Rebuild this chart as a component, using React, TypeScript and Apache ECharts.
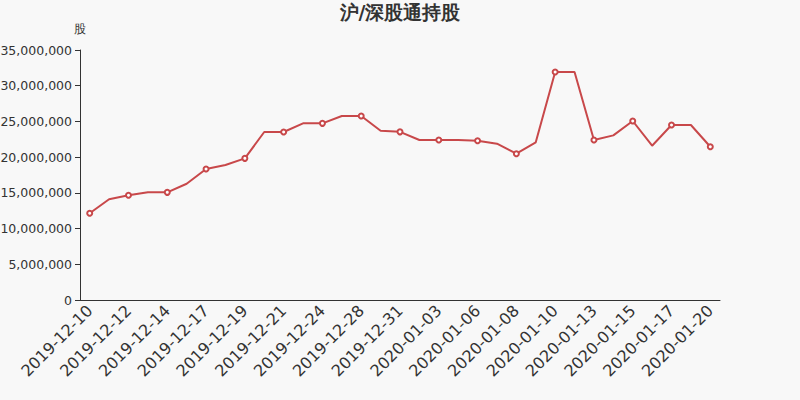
import React, { useEffect, useRef } from "react";
import * as echarts from "echarts";

const titleText = "沪/深股通持股";
const yAxisName = "股";
const categories = [
  "2019-12-10", "2019-12-11", "2019-12-12", "2019-12-13", "2019-12-14",
  "2019-12-16", "2019-12-17", "2019-12-18", "2019-12-19", "2019-12-20",
  "2019-12-21", "2019-12-23", "2019-12-24", "2019-12-27", "2019-12-28",
  "2019-12-30", "2019-12-31", "2020-01-02", "2020-01-03", "2020-01-04",
  "2020-01-06", "2020-01-07", "2020-01-08", "2020-01-09", "2020-01-10",
  "2020-01-11", "2020-01-13", "2020-01-14", "2020-01-15", "2020-01-16",
  "2020-01-17", "2020-01-18", "2020-01-20",
];
const holdings = [
  12140000, 14100000, 14660000, 15100000, 15070000,
  16280000, 18340000, 18900000, 19830000, 23520000,
  23520000, 24730000, 24730000, 25760000, 25760000,
  23700000, 23540000, 22400000, 22400000, 22400000,
  22300000, 21880000, 20480000, 22080000, 31920000,
  31920000, 22400000, 23050000, 25060000, 21600000,
  24500000, 24500000, 21460000,
];

export default function App() {
  const ref = useRef<HTMLDivElement>(null);
  useEffect(() => {
    if (!ref.current) return;
    const chart = echarts.init(ref.current, null, { renderer: "svg" });
    chart.setOption({
      animation: false,
      backgroundColor: "#f8f8f8",
      textStyle: { fontFamily: "DejaVu Sans" },
      title: {
        text: titleText,
        left: "center",
        top: -3,
        textStyle: { fontSize: 19, fontWeight: "bold", color: "#333", fontFamily: "DejaVu Sans" },
      },
      grid: { left: 80, right: 80, top: 50, bottom: 100, outerBoundsMode: "none", containLabel: false },
      xAxis: {
        type: "category",
        data: categories,
        boundaryGap: true,
        axisLine: { lineStyle: { color: "#333" } },
        axisTick: { interval: 1 },
        axisLabel: { interval: 1, rotate: 45, fontSize: 16, color: "#333" },
      },
      yAxis: {
        type: "value",
        name: yAxisName,
        min: 0,
        max: 35000000,
        interval: 5000000,
        nameTextStyle: { color: "#333", fontSize: 12 },
        nameGap: 15,
        axisLine: { show: true, lineStyle: { color: "#333" } },
        axisTick: { show: true },
        splitLine: { show: false },
        axisLabel: {
          fontSize: 12.5,
          color: "#333",
          formatter: (v: number) => v.toLocaleString("en-US"),
        },
      },
      series: [
        {
          type: "line",
          data: holdings,
          symbol: "emptyCircle",
          symbolSize: 5,
          showAllSymbol: false,
          itemStyle: { color: "#c8484a", borderWidth: 1 },
          lineStyle: { width: 2, color: "#c8484a" },
        },
      ],
    });
    return () => chart.dispose();
  }, []);
  return <div ref={ref} style={{ width: 800, height: 400, position: "fixed", left: 0, top: 0 }} />;
}
